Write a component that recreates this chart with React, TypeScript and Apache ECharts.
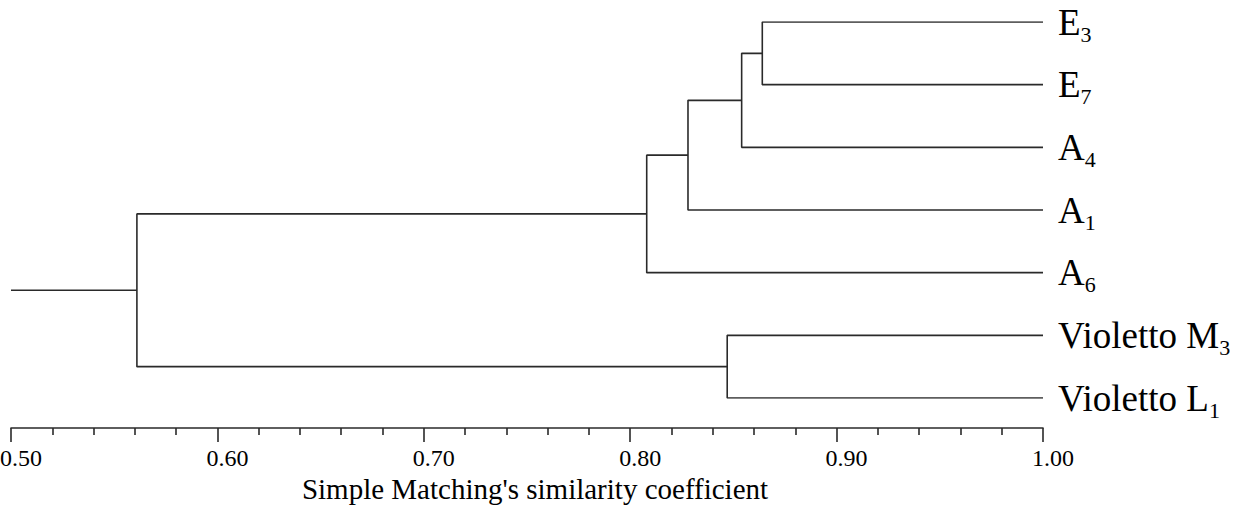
import React, { useEffect, useRef } from "react";
import * as echarts from "echarts";

// Leaves (top to bottom): main text and subscript
const leafNames = ["E", "E", "A", "A", "A", "Violetto M", "Violetto L"];
const leafSubs = ["3", "7", "4", "1", "6", "3", "1"];

// Merges: [childA, childB, similarity]; nodes 0..6 are leaves, new nodes numbered 7..
const mergeA = [0, 7, 8, 9, 5, 10];
const mergeB = [1, 2, 3, 4, 6, 11];
const mergeSim = [0.864, 0.854, 0.828, 0.808, 0.847, 0.561];

const rootStart = 0.5;
const axisTicks = [0.5, 0.6, 0.7, 0.8, 0.9, 1.0];
const axisTitle = "Simple Matching's similarity coefficient";

const LINE = "#2a2a2a";
const FONT = "Liberation Serif, Times New Roman, serif";

export default function App() {
  const ref = useRef<HTMLDivElement>(null);
  useEffect(() => {
    if (!ref.current) return;
    const chart = echarts.init(ref.current, undefined, { renderer: "svg" });

    const nodeX: number[] = leafNames.map(() => 1.0);
    const nodeY: number[] = leafNames.map((_, i) => i);
    const series: any[] = [];
    mergeA.forEach((a, k) => {
      const b = mergeB[k];
      const h = mergeSim[k];
      const y = (nodeY[a] + nodeY[b]) / 2;
      series.push({
        type: "line",
        symbol: "none",
        silent: true,
        lineStyle: { color: LINE, width: 1.6 },
        data: [
          [nodeX[a], nodeY[a]],
          [h, nodeY[a]],
          [h, nodeY[b]],
          [nodeX[b], nodeY[b]],
        ],
      });
      nodeX.push(h);
      nodeY.push(y);
    });
    const root = nodeX.length - 1;
    series.push({
      type: "line",
      symbol: "none",
      silent: true,
      lineStyle: { color: LINE, width: 1.6 },
      data: [
        [nodeX[root], nodeY[root]],
        [rootStart, nodeY[root]],
      ],
    });

    chart.setOption({
      animation: false,
      grid: { left: 11, right: 191, top: 22, bottom: 112, outerBoundsMode: "none", containLabel: false },
      xAxis: {
        type: "value",
        min: axisTicks[0],
        max: axisTicks[axisTicks.length - 1],
        interval: 0.1,
        offset: 30,
        name: axisTitle,
        nameLocation: "middle",
        nameGap: 45,
        nameTextStyle: {
          fontFamily: FONT,
          fontSize: 29,
          color: "#000",
          padding: [0, 0, 0, 16],
        },
        axisLine: { show: true, onZero: false, lineStyle: { color: LINE, width: 1.6 } },
        axisTick: { show: true, length: 14, lineStyle: { color: LINE, width: 1.6 } },
        minorTick: { show: true, splitNumber: 5, length: 7, lineStyle: { color: LINE, width: 1.6 } },
        splitLine: { show: false },
        minorSplitLine: { show: false },
        axisLabel: {
          fontFamily: FONT,
          fontSize: 24,
          color: "#000",
          margin: 18,
          padding: [0, 0, 0, 20],
          formatter: (v: number) => v.toFixed(2),
        },
      },
      yAxis: {
        type: "value",
        min: 0,
        max: leafNames.length - 1,
        interval: 1,
        inverse: true,
        position: "right",
        axisLine: { show: false },
        axisTick: { show: false },
        splitLine: { show: false },
        axisLabel: {
          margin: 15,
          formatter: (v: number) => `{b|${leafNames[v]}}{s|${leafSubs[v]}}`,
          rich: {
            b: { fontFamily: FONT, fontSize: 37, color: "#000", lineHeight: 37 },
            s: { fontFamily: FONT, fontSize: 22, color: "#000", lineHeight: 22, padding: [24, 0, 0, 0] },
          },
        },
      },
      series,
    });
    return () => chart.dispose();
  }, []);
  return (
    <div
      ref={ref}
      style={{ position: "absolute", left: 0, top: 0, width: 1234, height: 510, background: "#fff" }}
    />
  );
}
